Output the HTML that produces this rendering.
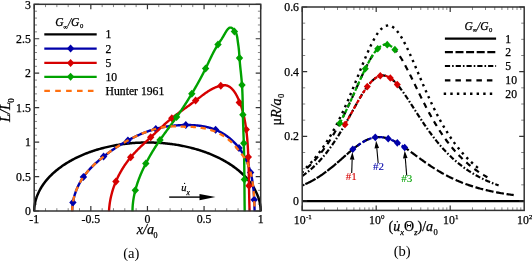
<!DOCTYPE html><html><head><meta charset="utf-8"><style>html,body{margin:0;padding:0;background:#fff;}svg{display:block;will-change:transform;}text{stroke:#000;stroke-width:0.25px;}</style></head><body>
<svg width="532" height="261" viewBox="0 0 532 261" font-family='"Liberation Serif", serif'>
<rect width="532" height="261" fill="#fff"/>
<path d="M34.2 211.4 L34.32 208.24 L34.44 206.93 L34.56 205.93 L34.68 205.08 L34.8 204.34 L34.92 203.67 L35.03 203.05 L35.15 202.48 L35.27 201.94 L35.39 201.43 L35.51 200.95 L35.63 200.48 L35.75 200.04 L35.87 199.61 L35.99 199.2 L36.11 198.81 L36.23 198.42 L36.35 198.05 L36.47 197.69 L36.47 197.69 L37.58 194.69 L38.7 192.18 L39.81 189.98 L40.93 188.01 L42.04 186.21 L43.16 184.54 L44.27 182.99 L45.39 181.54 L46.5 180.17 L47.62 178.87 L48.73 177.63 L49.85 176.45 L50.97 175.32 L52.08 174.24 L53.2 173.2 L54.31 172.2 L55.43 171.24 L56.54 170.31 L57.66 169.41 L58.77 168.54 L59.89 167.7 L61 166.89 L62.12 166.1 L63.24 165.33 L64.35 164.59 L65.47 163.87 L66.58 163.16 L67.7 162.48 L68.81 161.82 L69.93 161.17 L71.04 160.54 L72.16 159.93 L73.27 159.34 L74.39 158.76 L75.5 158.19 L76.62 157.64 L77.74 157.1 L78.85 156.58 L79.97 156.07 L81.08 155.57 L82.2 155.09 L83.31 154.61 L84.43 154.15 L85.54 153.71 L86.66 153.27 L87.77 152.84 L88.89 152.43 L90.01 152.02 L91.12 151.63 L92.24 151.24 L93.35 150.87 L94.47 150.51 L95.58 150.15 L96.7 149.81 L97.81 149.47 L98.93 149.14 L100.04 148.83 L101.16 148.52 L102.28 148.22 L103.39 147.93 L104.51 147.65 L105.62 147.37 L106.74 147.11 L107.85 146.85 L108.97 146.6 L110.08 146.36 L111.2 146.13 L112.31 145.9 L113.43 145.68 L114.54 145.47 L115.66 145.27 L116.78 145.08 L117.89 144.89 L119.01 144.71 L120.12 144.54 L121.24 144.37 L122.35 144.21 L123.47 144.06 L124.58 143.92 L125.7 143.78 L126.81 143.65 L127.93 143.53 L129.05 143.42 L130.16 143.31 L131.28 143.21 L132.39 143.11 L133.51 143.02 L134.62 142.94 L135.74 142.87 L136.85 142.8 L137.97 142.74 L139.08 142.69 L140.2 142.64 L141.32 142.6 L142.43 142.57 L143.55 142.54 L144.66 142.52 L145.78 142.51 L146.89 142.5 L148.01 142.5 L149.12 142.51 L150.24 142.52 L151.35 142.54 L152.47 142.57 L153.58 142.6 L154.7 142.64 L155.82 142.69 L156.93 142.74 L158.05 142.8 L159.16 142.87 L160.28 142.94 L161.39 143.02 L162.51 143.11 L163.62 143.21 L164.74 143.31 L165.85 143.42 L166.97 143.53 L168.09 143.65 L169.2 143.78 L170.32 143.92 L171.43 144.06 L172.55 144.21 L173.66 144.37 L174.78 144.54 L175.89 144.71 L177.01 144.89 L178.12 145.08 L179.24 145.27 L180.36 145.47 L181.47 145.68 L182.59 145.9 L183.7 146.13 L184.82 146.36 L185.93 146.6 L187.05 146.85 L188.16 147.11 L189.28 147.37 L190.39 147.65 L191.51 147.93 L192.62 148.22 L193.74 148.52 L194.86 148.83 L195.97 149.14 L197.09 149.47 L198.2 149.81 L199.32 150.15 L200.43 150.51 L201.55 150.87 L202.66 151.24 L203.78 151.63 L204.89 152.02 L206.01 152.43 L207.13 152.84 L208.24 153.27 L209.36 153.71 L210.47 154.15 L211.59 154.61 L212.7 155.09 L213.82 155.57 L214.93 156.07 L216.05 156.58 L217.16 157.1 L218.28 157.64 L219.4 158.19 L220.51 158.76 L221.63 159.34 L222.74 159.93 L223.86 160.54 L224.97 161.17 L226.09 161.82 L227.2 162.48 L228.32 163.16 L229.43 163.87 L230.55 164.59 L231.66 165.33 L232.78 166.1 L233.9 166.89 L235.01 167.7 L236.13 168.54 L237.24 169.41 L238.36 170.31 L239.47 171.24 L240.59 172.2 L241.7 173.2 L242.82 174.24 L243.93 175.32 L245.05 176.45 L246.17 177.63 L247.28 178.87 L248.4 180.17 L249.51 181.54 L250.63 182.99 L251.74 184.54 L252.86 186.21 L253.97 188.01 L255.09 189.98 L256.2 192.18 L257.32 194.69 L258.44 197.69 L258.44 197.69 L258.55 198.05 L258.67 198.42 L258.79 198.81 L258.91 199.2 L259.03 199.61 L259.15 200.04 L259.27 200.48 L259.39 200.95 L259.51 201.43 L259.63 201.94 L259.75 202.48 L259.87 203.05 L259.98 203.67 L260.1 204.34 L260.22 205.08 L260.34 205.93 L260.46 206.93 L260.58 208.24 L260.7 211.4" fill="none" stroke="#000" stroke-width="2.5"/>
<path d="M72.2 211.3 L72.2 210.6 L72.22 209.89 L72.24 209.19 L72.27 208.49 L72.31 207.78 L72.36 207.08 L72.42 206.38 L72.49 205.68 L72.57 204.98 L72.65 204.28 L72.75 203.58 L72.86 202.88 L72.97 202.19 L73.09 201.49 L73.22 200.79 L73.36 200.1 L73.51 199.41 L73.66 198.72 L73.83 198.03 L74 197.34 L74.18 196.66 L74.37 195.98 L74.57 195.29 L74.78 194.62 L74.99 193.94 L75.21 193.26 L75.44 192.59 L75.68 191.92 L75.92 191.26 L76.17 190.59 L76.43 189.93 L76.7 189.27 L76.98 188.61 L77.26 187.96 L77.55 187.31 L77.84 186.67 L78.15 186.02 L78.46 185.38 L78.78 184.75 L79.1 184.11 L79.43 183.49 L79.77 182.86 L80.11 182.24 L80.47 181.62 L80.82 181.01 L81.19 180.4 L81.56 179.8 L81.94 179.2 L82.32 178.6 L82.71 178.01 L83.11 177.42 L83.51 176.84 L83.92 176.27 L84.33 175.69 L84.75 175.13 L85.18 174.57 L85.61 174.01 L86.04 173.45 L86.49 172.9 L86.93 172.36 L87.39 171.82 L87.84 171.28 L88.3 170.75 L88.77 170.22 L89.24 169.7 L89.72 169.18 L90.2 168.66 L90.68 168.15 L91.17 167.64 L91.67 167.14 L92.16 166.64 L92.66 166.14 L93.17 165.65 L93.68 165.15 L94.19 164.67 L94.7 164.18 L95.22 163.7 L95.74 163.22 L96.27 162.75 L96.79 162.28 L97.32 161.81 L97.86 161.34 L98.39 160.88 L98.93 160.42 L99.47 159.96 L100.01 159.51 L100.56 159.06 L101.1 158.61 L101.65 158.16 L102.2 157.72 L102.75 157.27 L103.3 156.83 L103.86 156.4 L104.42 155.96 L104.97 155.53 L105.53 155.09 L106.09 154.66 L106.65 154.24 L107.22 153.81 L107.78 153.39 L108.35 152.97 L108.92 152.55 L109.48 152.13 L110.05 151.72 L110.63 151.31 L111.2 150.9 L111.77 150.49 L112.35 150.09 L112.93 149.68 L113.51 149.28 L114.09 148.89 L114.67 148.49 L115.25 148.1 L115.84 147.71 L116.43 147.32 L117.01 146.93 L117.6 146.55 L118.19 146.17 L118.79 145.79 L119.38 145.41 L119.98 145.04 L120.58 144.67 L121.18 144.3 L121.78 143.93 L122.38 143.57 L122.98 143.21 L123.59 142.85 L124.2 142.49 L124.81 142.14 L125.42 141.79 L126.03 141.44 L126.64 141.1 L127.26 140.75 L127.88 140.41 L128.49 140.08 L129.12 139.74 L129.74 139.41 L130.36 139.08 L130.99 138.75 L131.62 138.43 L132.24 138.11 L132.87 137.79 L133.51 137.47 L134.14 137.16 L134.78 136.85 L135.41 136.55 L136.05 136.25 L136.69 135.95 L137.33 135.65 L137.97 135.36 L138.62 135.07 L139.26 134.78 L139.91 134.5 L140.56 134.22 L141.21 133.95 L141.86 133.67 L142.52 133.41 L143.17 133.14 L143.83 132.88 L144.48 132.63 L145.14 132.37 L145.8 132.12 L146.46 131.88 L147.12 131.64 L147.79 131.4 L148.45 131.17 L149.12 130.94 L149.79 130.71 L150.46 130.49 L151.13 130.28 L151.8 130.07 L152.47 129.86 L153.14 129.65 L153.82 129.46 L154.49 129.26 L155.17 129.07 L155.85 128.89 L156.53 128.71 L157.21 128.53 L157.89 128.36 L158.57 128.19 L159.26 128.03 L159.94 127.87 L160.63 127.72 L161.31 127.57 L162 127.43 L162.69 127.29 L163.38 127.15 L164.07 127.02 L164.76 126.89 L165.45 126.77 L166.15 126.65 L166.84 126.54 L167.54 126.43 L168.23 126.32 L168.93 126.22 L169.63 126.13 L170.33 126.03 L171.02 125.94 L171.72 125.86 L172.43 125.78 L173.13 125.7 L173.83 125.63 L174.53 125.56 L175.23 125.5 L175.94 125.44 L176.64 125.38 L177.35 125.33 L178.05 125.28 L178.76 125.24 L179.47 125.19 L180.18 125.16 L180.88 125.13 L181.59 125.1 L182.3 125.07 L183.01 125.05 L183.72 125.03 L184.43 125.02 L185.14 125.01 L185.85 125 L186.57 125 L187.28 125 L187.99 125 L188.7 125.01 L189.41 125.02 L190.13 125.04 L190.84 125.06 L191.55 125.09 L192.26 125.12 L192.98 125.15 L193.69 125.19 L194.4 125.24 L195.11 125.29 L195.82 125.35 L196.52 125.41 L197.23 125.47 L197.94 125.55 L198.64 125.63 L199.35 125.71 L200.05 125.8 L200.76 125.9 L201.46 126 L202.16 126.11 L202.85 126.23 L203.55 126.35 L204.24 126.48 L204.94 126.61 L205.63 126.76 L206.32 126.91 L207 127.07 L207.69 127.23 L208.37 127.41 L209.05 127.59 L209.73 127.78 L210.41 127.97 L211.08 128.18 L211.75 128.39 L212.42 128.61 L213.08 128.84 L213.75 129.08 L214.41 129.33 L215.06 129.58 L215.72 129.85 L216.37 130.12 L217.01 130.4 L217.66 130.7 L218.3 131 L218.93 131.31 L219.57 131.62 L220.19 131.95 L220.82 132.29 L221.44 132.63 L222.06 132.98 L222.67 133.34 L223.28 133.71 L223.88 134.08 L224.48 134.46 L225.08 134.86 L225.67 135.25 L226.26 135.66 L226.84 136.07 L227.41 136.49 L227.98 136.92 L228.55 137.36 L229.11 137.8 L229.66 138.25 L230.21 138.7 L230.76 139.17 L231.3 139.64 L231.83 140.11 L232.36 140.6 L232.88 141.08 L233.39 141.58 L233.9 142.08 L234.4 142.59 L234.9 143.1 L235.39 143.62 L235.87 144.15 L236.35 144.68 L236.82 145.21 L237.28 145.75 L237.73 146.3 L238.18 146.85 L238.62 147.41 L239.06 147.97 L239.48 148.54 L239.9 149.12 L240.31 149.69 L240.72 150.28 L241.12 150.86 L241.51 151.45 L241.89 152.05 L242.27 152.65 L242.64 153.25 L243 153.86 L243.35 154.48 L243.7 155.09 L244.04 155.71 L244.38 156.34 L244.71 156.96 L245.03 157.59 L245.34 158.23 L245.65 158.87 L245.95 159.51 L246.25 160.15 L246.54 160.8 L246.82 161.45 L247.09 162.1 L247.36 162.76 L247.63 163.41 L247.88 164.07 L248.13 164.74 L248.38 165.4 L248.61 166.07 L248.85 166.74 L249.07 167.41 L249.29 168.08 L249.5 168.76 L249.71 169.43 L249.91 170.11 L250.11 170.79 L250.3 171.47 L250.48 172.16 L250.66 172.84 L250.83 173.52 L251 174.21 L251.16 174.89 L251.32 175.58 L251.47 176.27 L251.62 176.96 L251.76 177.65 L251.89 178.34 L252.02 179.03 L252.15 179.73 L252.27 180.42 L252.39 181.11 L252.5 181.81 L252.61 182.5 L252.71 183.2 L252.81 183.9 L252.91 184.6 L253 185.29 L253.09 185.99 L253.17 186.69 L253.25 187.39 L253.33 188.09 L253.41 188.79 L253.48 189.5 L253.54 190.2 L253.61 190.9 L253.67 191.6 L253.73 192.31 L253.78 193.01 L253.84 193.71 L253.89 194.42 L253.94 195.12 L253.98 195.82 L254.02 196.53 L254.07 197.23 L254.11 197.94 L254.14 198.64 L254.18 199.34 L254.21 200.05 L254.24 200.75 L254.27 201.46 L254.3 202.16 L254.33 202.87 L254.36 203.57 L254.38 204.28 L254.41 204.98 L254.43 205.68 L254.45 206.39 L254.48 207.09 L254.5 207.79 L254.52 208.49 L254.54 209.2 L254.56 209.9 L254.58 210.6 L254.6 211.3" fill="none" stroke="#0000aa" stroke-width="2.4" stroke-linejoin="round"/>
<path d="M72.9 198.6 L76.6 202.6 L72.9 206.6 L69.2 202.6 Z" fill="#0000aa"/>
<path d="M83.4 173 L87.1 177 L83.4 181 L79.7 177 Z" fill="#0000aa"/>
<path d="M103.6 152.6 L107.3 156.6 L103.6 160.6 L99.9 156.6 Z" fill="#0000aa"/>
<path d="M127.9 136.4 L131.6 140.4 L127.9 144.4 L124.2 140.4 Z" fill="#0000aa"/>
<path d="M155.8 124.9 L159.5 128.9 L155.8 132.9 L152.1 128.9 Z" fill="#0000aa"/>
<path d="M185.8 121 L189.5 125 L185.8 129 L182.1 125 Z" fill="#0000aa"/>
<path d="M215.6 125.8 L219.3 129.8 L215.6 133.8 L211.9 129.8 Z" fill="#0000aa"/>
<path d="M239 143.9 L242.7 147.9 L239 151.9 L235.3 147.9 Z" fill="#0000aa"/>
<path d="M250.6 168.6 L254.3 172.6 L250.6 176.6 L246.9 172.6 Z" fill="#0000aa"/>
<path d="M254.2 195.8 L257.9 199.8 L254.2 203.8 L250.5 199.8 Z" fill="#0000aa"/>
<path d="M109 211.3 L109.04 210.51 L109.09 209.73 L109.14 208.94 L109.21 208.15 L109.28 207.37 L109.36 206.59 L109.44 205.8 L109.53 205.02 L109.63 204.24 L109.74 203.46 L109.86 202.69 L109.98 201.91 L110.11 201.13 L110.24 200.36 L110.39 199.59 L110.54 198.82 L110.7 198.05 L110.86 197.28 L111.03 196.51 L111.21 195.75 L111.4 194.98 L111.59 194.22 L111.79 193.46 L111.99 192.7 L112.21 191.95 L112.43 191.19 L112.65 190.44 L112.88 189.69 L113.12 188.94 L113.37 188.2 L113.62 187.45 L113.88 186.71 L114.14 185.97 L114.42 185.23 L114.69 184.5 L114.98 183.76 L115.27 183.03 L115.56 182.3 L115.87 181.58 L116.18 180.86 L116.49 180.14 L116.81 179.42 L117.14 178.7 L117.47 177.99 L117.81 177.28 L118.15 176.57 L118.5 175.87 L118.86 175.17 L119.22 174.47 L119.59 173.78 L119.96 173.09 L120.34 172.4 L120.72 171.71 L121.11 171.03 L121.51 170.35 L121.91 169.67 L122.32 169 L122.73 168.33 L123.15 167.67 L123.57 167.01 L124 166.35 L124.43 165.69 L124.87 165.04 L125.31 164.39 L125.76 163.75 L126.21 163.11 L126.67 162.47 L127.13 161.84 L127.6 161.21 L128.07 160.59 L128.55 159.97 L129.03 159.35 L129.52 158.74 L130.01 158.13 L130.51 157.53 L131.01 156.93 L131.52 156.33 L132.03 155.74 L132.54 155.15 L133.06 154.57 L133.59 153.99 L134.11 153.41 L134.64 152.84 L135.18 152.27 L135.71 151.7 L136.25 151.14 L136.8 150.58 L137.35 150.02 L137.89 149.46 L138.45 148.91 L139 148.36 L139.56 147.81 L140.12 147.26 L140.68 146.72 L141.24 146.17 L141.81 145.63 L142.37 145.09 L142.94 144.55 L143.51 144.01 L144.08 143.47 L144.65 142.94 L145.22 142.4 L145.8 141.87 L146.37 141.33 L146.94 140.8 L147.52 140.26 L148.09 139.73 L148.67 139.2 L149.24 138.66 L149.82 138.13 L150.39 137.59 L150.96 137.05 L151.54 136.52 L152.11 135.98 L152.68 135.44 L153.25 134.9 L153.82 134.37 L154.39 133.83 L154.96 133.29 L155.53 132.75 L156.1 132.21 L156.67 131.67 L157.24 131.14 L157.82 130.6 L158.39 130.06 L158.96 129.53 L159.53 128.99 L160.11 128.46 L160.68 127.93 L161.26 127.39 L161.83 126.86 L162.41 126.34 L162.99 125.81 L163.56 125.28 L164.15 124.76 L164.73 124.24 L165.31 123.72 L165.89 123.2 L166.48 122.69 L167.07 122.17 L167.66 121.66 L168.25 121.15 L168.84 120.65 L169.44 120.15 L170.04 119.65 L170.64 119.15 L171.24 118.66 L171.84 118.17 L172.45 117.68 L173.06 117.2 L173.67 116.71 L174.28 116.24 L174.9 115.76 L175.52 115.29 L176.13 114.82 L176.76 114.35 L177.38 113.88 L178 113.42 L178.63 112.96 L179.26 112.5 L179.88 112.04 L180.51 111.58 L181.14 111.12 L181.78 110.66 L182.41 110.21 L183.04 109.75 L183.68 109.3 L184.31 108.84 L184.95 108.39 L185.58 107.93 L186.22 107.47 L186.86 107.02 L187.49 106.56 L188.13 106.1 L188.77 105.65 L189.4 105.19 L190.04 104.73 L190.67 104.26 L191.31 103.8 L191.95 103.33 L192.58 102.87 L193.21 102.4 L193.85 101.92 L194.48 101.45 L195.11 100.97 L195.74 100.49 L196.37 100.01 L197 99.53 L197.63 99.04 L198.25 98.55 L198.88 98.06 L199.51 97.58 L200.14 97.09 L200.77 96.6 L201.4 96.12 L202.03 95.64 L202.66 95.16 L203.3 94.68 L203.94 94.21 L204.58 93.75 L205.22 93.29 L205.87 92.84 L206.52 92.39 L207.17 91.95 L207.83 91.52 L208.49 91.09 L209.15 90.68 L209.82 90.27 L210.5 89.88 L211.18 89.49 L211.87 89.12 L212.56 88.76 L213.26 88.41 L213.96 88.07 L214.67 87.75 L215.39 87.44 L216.12 87.15 L216.85 86.87 L217.59 86.61 L218.34 86.37 L219.1 86.14 L219.86 85.93 L220.64 85.74 L221.42 85.57 L222.21 85.42 L223 85.31 L223.79 85.23 L224.58 85.21 L225.35 85.24 L226.12 85.34 L226.86 85.52 L227.59 85.76 L228.29 86.07 L228.98 86.44 L229.65 86.86 L230.29 87.33 L230.91 87.85 L231.51 88.4 L232.09 88.98 L232.65 89.58 L233.18 90.2 L233.68 90.84 L234.17 91.48 L234.63 92.13 L235.07 92.78 L235.49 93.45 L235.89 94.12 L236.28 94.79 L236.65 95.48 L237.01 96.16 L237.35 96.86 L237.69 97.55 L238.02 98.25 L238.34 98.96 L238.65 99.67 L238.96 100.38 L239.26 101.1 L239.55 101.82 L239.83 102.54 L240.11 103.27 L240.38 104 L240.64 104.73 L240.9 105.47 L241.15 106.21 L241.4 106.95 L241.63 107.7 L241.87 108.45 L242.09 109.2 L242.31 109.95 L242.53 110.7 L242.74 111.46 L242.94 112.22 L243.14 112.98 L243.33 113.75 L243.51 114.51 L243.7 115.28 L243.87 116.05 L244.04 116.82 L244.21 117.59 L244.37 118.36 L244.53 119.14 L244.68 119.91 L244.83 120.69 L244.97 121.47 L245.11 122.25 L245.24 123.02 L245.37 123.8 L245.5 124.58 L245.62 125.37 L245.74 126.15 L245.86 126.93 L245.97 127.71 L246.08 128.49 L246.18 129.27 L246.28 130.05 L246.38 130.83 L246.48 131.62 L246.57 132.4 L246.66 133.18 L246.75 133.96 L246.83 134.74 L246.91 135.52 L246.99 136.3 L247.06 137.08 L247.14 137.86 L247.21 138.64 L247.28 139.42 L247.34 140.2 L247.4 140.98 L247.47 141.76 L247.52 142.54 L247.58 143.31 L247.64 144.09 L247.69 144.87 L247.74 145.65 L247.79 146.43 L247.83 147.21 L247.88 147.99 L247.92 148.77 L247.97 149.55 L248.01 150.33 L248.04 151.11 L248.08 151.89 L248.12 152.67 L248.15 153.45 L248.19 154.23 L248.22 155.01 L248.25 155.79 L248.28 156.57 L248.31 157.35 L248.34 158.13 L248.37 158.91 L248.4 159.69 L248.42 160.47 L248.45 161.25 L248.47 162.03 L248.5 162.81 L248.52 163.59 L248.55 164.38 L248.57 165.16 L248.59 165.94 L248.61 166.72 L248.63 167.5 L248.65 168.28 L248.67 169.07 L248.69 169.85 L248.71 170.63 L248.72 171.41 L248.74 172.19 L248.76 172.98 L248.78 173.76 L248.79 174.54 L248.81 175.32 L248.82 176.11 L248.84 176.89 L248.85 177.67 L248.87 178.45 L248.88 179.24 L248.9 180.02 L248.91 180.8 L248.93 181.58 L248.94 182.37 L248.95 183.15 L248.97 183.93 L248.98 184.71 L248.99 185.5 L249.01 186.28 L249.02 187.06 L249.04 187.84 L249.05 188.63 L249.06 189.41 L249.08 190.19 L249.09 190.97 L249.11 191.76 L249.12 192.54 L249.14 193.32 L249.15 194.1 L249.17 194.89 L249.18 195.67 L249.2 196.45 L249.22 197.23 L249.23 198.02 L249.25 198.8 L249.27 199.58 L249.29 200.36 L249.3 201.14 L249.32 201.93 L249.34 202.71 L249.36 203.49 L249.38 204.27 L249.41 205.05 L249.43 205.83 L249.45 206.61 L249.47 207.4 L249.5 208.18 L249.52 208.96 L249.55 209.74 L249.57 210.52 L249.6 211.3" fill="none" stroke="#d60000" stroke-width="2.4" stroke-linejoin="round"/>
<path d="M115.9 177.5 L119.6 181.5 L115.9 185.5 L112.2 181.5 Z" fill="#d60000"/>
<path d="M130.7 153.3 L134.4 157.3 L130.7 161.3 L127 157.3 Z" fill="#d60000"/>
<path d="M150.7 133.3 L154.4 137.3 L150.7 141.3 L147 137.3 Z" fill="#d60000"/>
<path d="M171.8 114.2 L175.5 118.2 L171.8 122.2 L168.1 118.2 Z" fill="#d60000"/>
<path d="M195.6 96.6 L199.3 100.6 L195.6 104.6 L191.9 100.6 Z" fill="#d60000"/>
<path d="M220.8 81.7 L224.5 85.7 L220.8 89.7 L217.1 85.7 Z" fill="#d60000"/>
<path d="M239.3 98.6 L243 102.6 L239.3 106.6 L235.6 102.6 Z" fill="#d60000"/>
<path d="M246.2 125.4 L249.9 129.4 L246.2 133.4 L242.5 129.4 Z" fill="#d60000"/>
<path d="M248.3 153 L252 157 L248.3 161 L244.6 157 Z" fill="#d60000"/>
<path d="M249 181.8 L252.7 185.8 L249 189.8 L245.3 185.8 Z" fill="#d60000"/>
<path d="M132.5 211.3 L132.51 210.29 L132.53 209.28 L132.56 208.28 L132.61 207.27 L132.67 206.27 L132.74 205.28 L132.83 204.28 L132.93 203.28 L133.04 202.29 L133.16 201.3 L133.29 200.31 L133.44 199.33 L133.59 198.35 L133.76 197.37 L133.94 196.39 L134.13 195.41 L134.33 194.44 L134.54 193.47 L134.76 192.5 L134.99 191.53 L135.23 190.56 L135.48 189.6 L135.74 188.64 L136.01 187.69 L136.29 186.73 L136.58 185.78 L136.88 184.83 L137.18 183.88 L137.5 182.93 L137.82 181.99 L138.15 181.05 L138.49 180.11 L138.84 179.18 L139.19 178.25 L139.55 177.32 L139.92 176.39 L140.3 175.46 L140.68 174.54 L141.07 173.62 L141.47 172.7 L141.87 171.79 L142.28 170.88 L142.7 169.97 L143.12 169.06 L143.55 168.16 L143.98 167.26 L144.42 166.36 L144.86 165.46 L145.31 164.57 L145.76 163.68 L146.22 162.79 L146.68 161.9 L147.15 161.02 L147.62 160.14 L148.09 159.26 L148.57 158.39 L149.06 157.52 L149.55 156.65 L150.04 155.78 L150.54 154.92 L151.04 154.06 L151.54 153.2 L152.05 152.34 L152.56 151.49 L153.08 150.64 L153.6 149.79 L154.13 148.94 L154.66 148.1 L155.19 147.26 L155.73 146.42 L156.27 145.58 L156.81 144.75 L157.36 143.91 L157.91 143.08 L158.46 142.26 L159.02 141.43 L159.58 140.61 L160.14 139.79 L160.71 138.97 L161.28 138.16 L161.86 137.34 L162.43 136.53 L163.01 135.72 L163.59 134.91 L164.18 134.11 L164.76 133.3 L165.35 132.49 L165.94 131.69 L166.52 130.89 L167.11 130.09 L167.7 129.28 L168.3 128.48 L168.89 127.68 L169.48 126.88 L170.07 126.08 L170.66 125.28 L171.25 124.47 L171.84 123.67 L172.43 122.87 L173.02 122.07 L173.61 121.26 L174.19 120.46 L174.78 119.65 L175.36 118.84 L175.94 118.03 L176.52 117.22 L177.09 116.41 L177.66 115.59 L178.23 114.77 L178.8 113.96 L179.36 113.14 L179.92 112.31 L180.48 111.49 L181.04 110.66 L181.6 109.84 L182.15 109.01 L182.7 108.18 L183.25 107.35 L183.79 106.51 L184.33 105.68 L184.87 104.84 L185.41 104 L185.95 103.17 L186.48 102.32 L187.02 101.48 L187.55 100.64 L188.07 99.79 L188.6 98.95 L189.12 98.1 L189.65 97.25 L190.17 96.4 L190.68 95.55 L191.2 94.7 L191.71 93.84 L192.23 92.99 L192.74 92.13 L193.25 91.27 L193.75 90.42 L194.26 89.56 L194.76 88.69 L195.26 87.83 L195.76 86.97 L196.25 86.1 L196.74 85.24 L197.24 84.37 L197.72 83.5 L198.21 82.63 L198.69 81.76 L199.17 80.89 L199.65 80.01 L200.13 79.14 L200.6 78.26 L201.07 77.38 L201.53 76.5 L202 75.62 L202.46 74.74 L202.92 73.85 L203.37 72.97 L203.82 72.08 L204.27 71.19 L204.71 70.3 L205.15 69.41 L205.59 68.52 L206.03 67.62 L206.46 66.73 L206.89 65.83 L207.31 64.93 L207.74 64.03 L208.16 63.14 L208.59 62.24 L209.01 61.34 L209.44 60.44 L209.87 59.54 L210.3 58.65 L210.73 57.75 L211.17 56.86 L211.61 55.96 L212.05 55.07 L212.5 54.19 L212.95 53.3 L213.42 52.42 L213.88 51.54 L214.36 50.66 L214.84 49.78 L215.33 48.91 L215.83 48.05 L216.33 47.19 L216.85 46.33 L217.38 45.47 L217.92 44.62 L218.47 43.78 L219.03 42.94 L219.59 42.11 L220.16 41.27 L220.72 40.44 L221.27 39.61 L221.81 38.79 L222.33 37.96 L222.84 37.13 L223.32 36.31 L223.8 35.47 L224.27 34.64 L224.75 33.79 L225.25 32.94 L225.77 32.07 L226.34 31.18 L226.96 30.28 L227.63 29.38 L228.36 28.59 L229.14 27.97 L229.99 27.63 L230.88 27.64 L231.81 27.98 L232.71 28.55 L233.55 29.25 L234.28 30.02 L234.9 30.82 L235.43 31.65 L235.87 32.52 L236.25 33.42 L236.56 34.34 L236.82 35.3 L237.03 36.27 L237.22 37.26 L237.37 38.26 L237.51 39.26 L237.64 40.27 L237.78 41.27 L237.91 42.26 L238.05 43.25 L238.19 44.24 L238.33 45.23 L238.46 46.21 L238.59 47.19 L238.71 48.18 L238.82 49.16 L238.92 50.15 L239.02 51.14 L239.1 52.13 L239.17 53.12 L239.24 54.11 L239.31 55.11 L239.37 56.1 L239.44 57.1 L239.51 58.09 L239.58 59.09 L239.66 60.08 L239.74 61.08 L239.82 62.07 L239.91 63.06 L240 64.06 L240.1 65.05 L240.19 66.04 L240.29 67.03 L240.39 68.02 L240.49 69.01 L240.59 70 L240.69 70.99 L240.8 71.99 L240.9 72.98 L241 73.97 L241.1 74.96 L241.2 75.95 L241.3 76.94 L241.39 77.93 L241.49 78.92 L241.58 79.91 L241.67 80.9 L241.75 81.89 L241.83 82.88 L241.91 83.87 L241.98 84.87 L242.05 85.86 L242.12 86.85 L242.18 87.84 L242.23 88.84 L242.28 89.83 L242.33 90.83 L242.37 91.82 L242.41 92.81 L242.45 93.81 L242.49 94.8 L242.52 95.8 L242.55 96.79 L242.58 97.79 L242.6 98.79 L242.63 99.78 L242.65 100.78 L242.67 101.77 L242.69 102.77 L242.71 103.77 L242.72 104.76 L242.74 105.76 L242.76 106.76 L242.77 107.75 L242.79 108.75 L242.8 109.74 L242.82 110.74 L242.84 111.74 L242.86 112.73 L242.88 113.73 L242.9 114.73 L242.92 115.72 L242.94 116.72 L242.97 117.71 L243 118.71 L243.02 119.71 L243.05 120.7 L243.08 121.7 L243.11 122.69 L243.14 123.69 L243.18 124.68 L243.21 125.68 L243.24 126.67 L243.28 127.67 L243.31 128.66 L243.35 129.66 L243.38 130.65 L243.41 131.65 L243.45 132.64 L243.48 133.64 L243.52 134.63 L243.55 135.63 L243.59 136.62 L243.62 137.62 L243.66 138.61 L243.69 139.61 L243.72 140.61 L243.75 141.6 L243.78 142.6 L243.81 143.59 L243.84 144.59 L243.87 145.58 L243.89 146.58 L243.92 147.57 L243.95 148.57 L243.97 149.56 L243.99 150.56 L244.01 151.55 L244.04 152.55 L244.06 153.54 L244.08 154.54 L244.1 155.54 L244.12 156.53 L244.13 157.53 L244.15 158.52 L244.17 159.52 L244.18 160.51 L244.2 161.51 L244.21 162.51 L244.23 163.5 L244.24 164.5 L244.25 165.49 L244.27 166.49 L244.28 167.48 L244.29 168.48 L244.3 169.48 L244.31 170.47 L244.32 171.47 L244.34 172.46 L244.35 173.46 L244.35 174.46 L244.36 175.45 L244.37 176.45 L244.38 177.44 L244.39 178.44 L244.4 179.44 L244.41 180.43 L244.42 181.43 L244.42 182.42 L244.43 183.42 L244.44 184.41 L244.45 185.41 L244.46 186.41 L244.46 187.4 L244.47 188.4 L244.48 189.39 L244.49 190.39 L244.49 191.39 L244.5 192.38 L244.51 193.38 L244.52 194.37 L244.53 195.37 L244.54 196.37 L244.54 197.36 L244.55 198.36 L244.56 199.35 L244.57 200.35 L244.58 201.34 L244.59 202.34 L244.6 203.34 L244.61 204.33 L244.62 205.33 L244.64 206.32 L244.65 207.32 L244.66 208.31 L244.67 209.31 L244.69 210.3 L244.7 211.3" fill="none" stroke="#00a200" stroke-width="2.4" stroke-linejoin="round"/>
<path d="M135.3 186.3 L139 190.3 L135.3 194.3 L131.6 190.3 Z" fill="#00a200"/>
<path d="M145.8 159.6 L149.5 163.6 L145.8 167.6 L142.1 163.6 Z" fill="#00a200"/>
<path d="M160 136 L163.7 140 L160 144 L156.3 140 Z" fill="#00a200"/>
<path d="M176.6 113.1 L180.3 117.1 L176.6 121.1 L172.9 117.1 Z" fill="#00a200"/>
<path d="M191.8 89.7 L195.5 93.7 L191.8 97.7 L188.1 93.7 Z" fill="#00a200"/>
<path d="M205.6 64.5 L209.3 68.5 L205.6 72.5 L201.9 68.5 Z" fill="#00a200"/>
<path d="M218 40.5 L221.7 44.5 L218 48.5 L214.3 44.5 Z" fill="#00a200"/>
<path d="M234.4 27.6 L238.1 31.6 L234.4 35.6 L230.7 31.6 Z" fill="#00a200"/>
<path d="M239.5 54 L243.2 58 L239.5 62 L235.8 58 Z" fill="#00a200"/>
<path d="M242 81.1 L245.7 85.1 L242 89.1 L238.3 85.1 Z" fill="#00a200"/>
<path d="M242.9 110.8 L246.6 114.8 L242.9 118.8 L239.2 114.8 Z" fill="#00a200"/>
<path d="M243.8 139.2 L247.5 143.2 L243.8 147.2 L240.1 143.2 Z" fill="#00a200"/>
<path d="M244.4 175.5 L248.1 179.5 L244.4 183.5 L240.7 179.5 Z" fill="#00a200"/>
<path d="M72.2 211.3 L72.2 210.6 L72.22 209.89 L72.24 209.19 L72.27 208.49 L72.31 207.78 L72.36 207.08 L72.42 206.38 L72.49 205.68 L72.57 204.98 L72.65 204.28 L72.75 203.58 L72.86 202.88 L72.97 202.19 L73.09 201.49 L73.22 200.79 L73.36 200.1 L73.51 199.41 L73.66 198.72 L73.83 198.03 L74 197.34 L74.18 196.66 L74.37 195.98 L74.57 195.29 L74.78 194.62 L74.99 193.94 L75.21 193.26 L75.44 192.59 L75.68 191.92 L75.92 191.26 L76.17 190.59 L76.43 189.93 L76.7 189.27 L76.98 188.61 L77.26 187.96 L77.55 187.31 L77.84 186.67 L78.15 186.02 L78.46 185.38 L78.78 184.75 L79.1 184.11 L79.43 183.49 L79.77 182.86 L80.11 182.24 L80.47 181.62 L80.82 181.01 L81.19 180.4 L81.56 179.8 L81.94 179.2 L82.32 178.6 L82.71 178.01 L83.11 177.42 L83.51 176.84 L83.92 176.27 L84.33 175.69 L84.75 175.13 L85.18 174.57 L85.61 174.01 L86.04 173.45 L86.49 172.9 L86.93 172.36 L87.39 171.82 L87.84 171.28 L88.3 170.75 L88.77 170.22 L89.24 169.7 L89.72 169.18 L90.2 168.66 L90.68 168.15 L91.17 167.64 L91.67 167.14 L92.16 166.64 L92.66 166.14 L93.17 165.65 L93.68 165.15 L94.19 164.67 L94.7 164.18 L95.22 163.7 L95.74 163.22 L96.27 162.75 L96.79 162.28 L97.32 161.81 L97.86 161.34 L98.39 160.88 L98.93 160.42 L99.47 159.96 L100.01 159.51 L100.56 159.06 L101.1 158.61 L101.65 158.16 L102.2 157.72 L102.75 157.27 L103.3 156.83 L103.86 156.4 L104.42 155.96 L104.97 155.53 L105.53 155.09 L106.09 154.66 L106.65 154.24 L107.22 153.81 L107.78 153.39 L108.35 152.97 L108.92 152.55 L109.48 152.13 L110.05 151.72 L110.63 151.31 L111.2 150.9 L111.77 150.49 L112.35 150.09 L112.93 149.68 L113.51 149.28 L114.09 148.89 L114.67 148.49 L115.25 148.1 L115.84 147.71 L116.43 147.32 L117.01 146.93 L117.6 146.55 L118.19 146.17 L118.79 145.79 L119.38 145.41 L119.98 145.04 L120.58 144.67 L121.18 144.3 L121.78 143.93 L122.38 143.57 L122.98 143.21 L123.59 142.85 L124.2 142.49 L124.81 142.14 L125.42 141.79 L126.03 141.44 L126.64 141.1 L127.26 140.75 L127.88 140.41 L128.49 140.08 L129.12 139.74 L129.74 139.41 L130.36 139.08 L130.99 138.75 L131.62 138.43 L132.24 138.11 L132.87 137.79 L133.51 137.47 L134.14 137.16 L134.78 136.85 L135.41 136.55 L136.05 136.25 L136.69 135.95 L137.33 135.65 L137.97 135.36 L138.62 135.07 L139.26 134.78 L139.91 134.5 L140.56 134.22 L141.21 133.95 L141.86 133.67 L142.52 133.41 L143.17 133.14 L143.83 132.88 L144.48 132.63 L145.14 132.37 L145.8 132.12 L146.46 131.88 L147.12 131.64 L147.79 131.4 L148.45 131.17 L149.12 130.94 L149.79 130.71 L150.46 130.49 L151.13 130.28 L151.8 130.07 L152.47 129.86 L153.14 129.65 L153.82 129.46 L154.49 129.26 L155.17 129.07 L155.85 128.89 L156.53 128.71 L157.21 128.53 L157.89 128.36 L158.57 128.19 L159.26 128.03 L159.94 127.87 L160.63 127.72 L161.31 127.57 L162 127.43 L162.69 127.29 L163.38 127.15 L164.07 127.02 L164.76 126.89 L165.46 126.81 L166.16 126.75 L166.87 126.7 L167.57 126.65 L168.28 126.61 L168.98 126.57 L169.68 126.54 L170.39 126.51 L171.09 126.48 L171.8 126.46 L172.5 126.44 L173.2 126.43 L173.91 126.42 L174.61 126.42 L175.32 126.42 L176.02 126.42 L176.72 126.43 L177.43 126.44 L178.13 126.45 L178.84 126.47 L179.54 126.5 L180.24 126.52 L180.95 126.55 L181.65 126.59 L182.35 126.63 L183.06 126.67 L183.76 126.72 L184.46 126.77 L185.16 126.81 L185.87 126.8 L186.57 126.8 L187.27 126.8 L187.97 126.8 L188.68 126.81 L189.38 126.82 L190.08 126.84 L190.78 126.86 L191.48 126.89 L192.18 126.92 L192.88 126.95 L193.58 126.99 L194.28 127.04 L194.97 127.09 L195.67 127.14 L196.36 127.2 L197.06 127.27 L197.75 127.34 L198.44 127.41 L199.13 127.5 L199.82 127.59 L200.5 127.68 L201.19 127.78 L201.87 127.89 L202.55 128 L203.23 128.12 L203.91 128.25 L204.58 128.38 L205.25 128.52 L205.92 128.67 L206.59 128.82 L207.26 128.98 L207.92 129.15 L208.58 129.32 L209.24 129.51 L209.89 129.7 L210.55 129.9 L211.19 130.1 L211.84 130.32 L212.49 130.54 L213.13 130.77 L213.76 131.01 L214.4 131.26 L215.03 131.51 L215.66 131.78 L216.28 132.05 L216.9 132.33 L217.52 132.62 L218.14 132.92 L218.75 133.23 L219.36 133.54 L219.96 133.87 L220.56 134.2 L221.16 134.54 L221.75 134.89 L222.34 135.24 L222.92 135.6 L223.51 135.98 L224.08 136.35 L224.65 136.74 L225.22 137.13 L225.78 137.53 L226.34 137.94 L226.89 138.36 L227.44 138.78 L227.99 139.21 L228.52 139.64 L229.06 140.08 L229.58 140.53 L230.11 140.99 L230.62 141.45 L231.13 141.92 L231.64 142.39 L232.14 142.87 L232.63 143.35 L233.12 143.85 L233.6 144.34 L234.07 144.85 L234.54 145.36 L235 145.87 L235.45 146.39 L235.9 146.91 L236.34 147.44 L236.78 147.98 L237.2 148.52 L237.62 149.06 L238.04 149.61 L238.44 150.17 L238.84 150.73 L239.27 151.27 L239.73 151.79 L240.18 152.32 L240.63 152.85 L241.07 153.39 L241.51 153.93 L241.95 154.48 L242.37 155.04 L242.8 155.6 L243.22 156.16 L243.63 156.73 L244.04 157.31 L244.44 157.89 L244.84 158.48 L245.23 159.07 L245.61 159.67 L246 160.27 L246.37 160.87 L246.74 161.48 L247.09 162.1 L247.36 162.76 L247.63 163.41 L247.88 164.07 L248.13 164.74 L248.38 165.4 L248.61 166.07 L248.85 166.74 L249.07 167.41 L249.29 168.08 L249.5 168.76 L249.71 169.43 L249.91 170.11 L250.11 170.79 L250.3 171.47 L250.48 172.16 L250.66 172.84 L250.83 173.52 L251 174.21 L251.16 174.89 L251.32 175.58 L251.47 176.27 L251.62 176.96 L251.76 177.65 L251.89 178.34 L252.02 179.03 L252.15 179.73 L252.27 180.42 L252.39 181.11 L252.5 181.81 L252.61 182.5 L252.71 183.2 L252.81 183.9 L252.91 184.6 L253 185.29 L253.09 185.99 L253.17 186.69 L253.25 187.39 L253.33 188.09 L253.41 188.79 L253.48 189.5 L253.54 190.2 L253.61 190.9 L253.67 191.6 L253.73 192.31 L253.78 193.01 L253.84 193.71 L253.89 194.42 L253.94 195.12 L253.98 195.82 L254.02 196.53 L254.07 197.23 L254.11 197.94 L254.14 198.64 L254.18 199.34 L254.21 200.05 L254.24 200.75 L254.27 201.46 L254.3 202.16 L254.33 202.87 L254.36 203.57 L254.38 204.28 L254.41 204.98 L254.43 205.68 L254.45 206.39 L254.48 207.09 L254.5 207.79 L254.52 208.49 L254.54 209.2 L254.56 209.9 L254.58 210.6 L254.6 211.3" fill="none" stroke="#ff7010" stroke-width="2.3" stroke-dasharray="5.4 4.6" stroke-dashoffset="0"/>
<g stroke="#333" fill="none">
<rect x="34.2" y="4.3" width="226.5" height="206.7" stroke-width="1.5"/>
<path d="M34.2 211 V206 M34.2 4.3 V9.3" stroke-width="1.2"/>
<path d="M45.52 211 V208.2 M45.52 4.3 V7.1" stroke-width="0.6"/>
<path d="M56.85 211 V208.2 M56.85 4.3 V7.1" stroke-width="0.6"/>
<path d="M68.18 211 V208.2 M68.18 4.3 V7.1" stroke-width="0.6"/>
<path d="M79.5 211 V208.2 M79.5 4.3 V7.1" stroke-width="0.6"/>
<path d="M90.83 211 V206 M90.83 4.3 V9.3" stroke-width="1.2"/>
<path d="M102.15 211 V208.2 M102.15 4.3 V7.1" stroke-width="0.6"/>
<path d="M113.48 211 V208.2 M113.48 4.3 V7.1" stroke-width="0.6"/>
<path d="M124.8 211 V208.2 M124.8 4.3 V7.1" stroke-width="0.6"/>
<path d="M136.12 211 V208.2 M136.12 4.3 V7.1" stroke-width="0.6"/>
<path d="M147.45 211 V206 M147.45 4.3 V9.3" stroke-width="1.2"/>
<path d="M158.78 211 V208.2 M158.78 4.3 V7.1" stroke-width="0.6"/>
<path d="M170.1 211 V208.2 M170.1 4.3 V7.1" stroke-width="0.6"/>
<path d="M181.43 211 V208.2 M181.43 4.3 V7.1" stroke-width="0.6"/>
<path d="M192.75 211 V208.2 M192.75 4.3 V7.1" stroke-width="0.6"/>
<path d="M204.07 211 V206 M204.07 4.3 V9.3" stroke-width="1.2"/>
<path d="M215.4 211 V208.2 M215.4 4.3 V7.1" stroke-width="0.6"/>
<path d="M226.73 211 V208.2 M226.73 4.3 V7.1" stroke-width="0.6"/>
<path d="M238.05 211 V208.2 M238.05 4.3 V7.1" stroke-width="0.6"/>
<path d="M249.38 211 V208.2 M249.38 4.3 V7.1" stroke-width="0.6"/>
<path d="M260.7 211 V206 M260.7 4.3 V9.3" stroke-width="1.2"/>
<path d="M34.2 211 H39.2 M260.7 211 H255.7" stroke-width="1.2"/>
<path d="M34.2 204.11 H37 M260.7 204.11 H257.9" stroke-width="0.6"/>
<path d="M34.2 197.22 H37 M260.7 197.22 H257.9" stroke-width="0.6"/>
<path d="M34.2 190.33 H37 M260.7 190.33 H257.9" stroke-width="0.6"/>
<path d="M34.2 183.44 H37 M260.7 183.44 H257.9" stroke-width="0.6"/>
<path d="M34.2 176.55 H39.2 M260.7 176.55 H255.7" stroke-width="1.2"/>
<path d="M34.2 169.66 H37 M260.7 169.66 H257.9" stroke-width="0.6"/>
<path d="M34.2 162.77 H37 M260.7 162.77 H257.9" stroke-width="0.6"/>
<path d="M34.2 155.88 H37 M260.7 155.88 H257.9" stroke-width="0.6"/>
<path d="M34.2 148.99 H37 M260.7 148.99 H257.9" stroke-width="0.6"/>
<path d="M34.2 142.1 H39.2 M260.7 142.1 H255.7" stroke-width="1.2"/>
<path d="M34.2 135.21 H37 M260.7 135.21 H257.9" stroke-width="0.6"/>
<path d="M34.2 128.32 H37 M260.7 128.32 H257.9" stroke-width="0.6"/>
<path d="M34.2 121.43 H37 M260.7 121.43 H257.9" stroke-width="0.6"/>
<path d="M34.2 114.54 H37 M260.7 114.54 H257.9" stroke-width="0.6"/>
<path d="M34.2 107.65 H39.2 M260.7 107.65 H255.7" stroke-width="1.2"/>
<path d="M34.2 100.76 H37 M260.7 100.76 H257.9" stroke-width="0.6"/>
<path d="M34.2 93.87 H37 M260.7 93.87 H257.9" stroke-width="0.6"/>
<path d="M34.2 86.98 H37 M260.7 86.98 H257.9" stroke-width="0.6"/>
<path d="M34.2 80.09 H37 M260.7 80.09 H257.9" stroke-width="0.6"/>
<path d="M34.2 73.2 H39.2 M260.7 73.2 H255.7" stroke-width="1.2"/>
<path d="M34.2 66.31 H37 M260.7 66.31 H257.9" stroke-width="0.6"/>
<path d="M34.2 59.42 H37 M260.7 59.42 H257.9" stroke-width="0.6"/>
<path d="M34.2 52.53 H37 M260.7 52.53 H257.9" stroke-width="0.6"/>
<path d="M34.2 45.64 H37 M260.7 45.64 H257.9" stroke-width="0.6"/>
<path d="M34.2 38.75 H39.2 M260.7 38.75 H255.7" stroke-width="1.2"/>
<path d="M34.2 31.86 H37 M260.7 31.86 H257.9" stroke-width="0.6"/>
<path d="M34.2 24.97 H37 M260.7 24.97 H257.9" stroke-width="0.6"/>
<path d="M34.2 18.08 H37 M260.7 18.08 H257.9" stroke-width="0.6"/>
<path d="M34.2 11.19 H37 M260.7 11.19 H257.9" stroke-width="0.6"/>
<path d="M34.2 4.3 H39.2 M260.7 4.3 H255.7" stroke-width="1.2"/>
</g>
<g font-size="11.8" fill="#000">
<text x="34.2" y="222.8" text-anchor="middle">-1</text>
<text x="90.83" y="222.8" text-anchor="middle">-0.5</text>
<text x="147.45" y="222.8" text-anchor="middle">0</text>
<text x="204.07" y="222.8" text-anchor="middle">0.5</text>
<text x="260.7" y="222.8" text-anchor="middle">1</text>
<text x="30.8" y="215.2" text-anchor="end">0</text>
<text x="30.8" y="180.75" text-anchor="end">0.5</text>
<text x="30.8" y="146.3" text-anchor="end">1</text>
<text x="30.8" y="111.85" text-anchor="end">1.5</text>
<text x="30.8" y="77.4" text-anchor="end">2</text>
<text x="30.8" y="42.95" text-anchor="end">2.5</text>
<text x="30.8" y="8.5" text-anchor="end">3</text>
</g>
<text x="136.7" y="233.8" font-size="14.2" font-style="italic">x/a<tspan font-style="normal" font-size="8" dx="-0.6" dy="3.9">0</tspan></text>
<text transform="translate(10.2,122) rotate(-90)" font-size="14.5" font-style="italic">L/L<tspan font-style="normal" font-size="9" dx="-0.8" dy="3.8">0</tspan></text>
<text x="131.3" y="257.8" font-size="14.6" text-anchor="middle" style="stroke:none">(a)</text>
<text x="55.3" y="26.3" font-size="11.5" font-style="italic">G<tspan font-size="6" dy="2.4" font-style="normal">&#8734;</tspan><tspan dy="-2.4">/G</tspan><tspan font-size="6.7" dx="0.5" dy="2.0" font-style="normal">0</tspan></text>
<path d="M44.3 34.3 H96.7" stroke="#000" stroke-width="2.2"/>
<text x="105.5" y="38.3" font-size="11.7">1</text>
<path d="M44.3 48.6 H96.7" stroke="#0000aa" stroke-width="2.2"/>
<path d="M70.6 44.6 L74.3 48.6 L70.6 52.6 L66.9 48.6 Z" fill="#0000aa"/>
<text x="105.5" y="52.6" font-size="11.7">2</text>
<path d="M44.3 62.9 H96.7" stroke="#d60000" stroke-width="2.2"/>
<path d="M70.6 58.9 L74.3 62.9 L70.6 66.9 L66.9 62.9 Z" fill="#d60000"/>
<text x="105.5" y="66.9" font-size="11.7">5</text>
<path d="M44.3 76.8 H96.7" stroke="#00a200" stroke-width="2.2"/>
<path d="M70.6 72.8 L74.3 76.8 L70.6 80.8 L66.9 76.8 Z" fill="#00a200"/>
<text x="105.5" y="80.8" font-size="11.7">10</text>
<path d="M44.3 90.9 H96.7" stroke="#ff7010" stroke-width="2.2" stroke-dasharray="5.6 5.3"/>
<text x="105.5" y="94.5" font-size="11.7">Hunter 1961</text>
<path d="M169.2 197.1 H201" stroke="#000" stroke-width="1.4"/>
<path d="M215.5 197.1 L199.5 194 L199.5 200.2 Z" fill="#000"/>
<text x="181.3" y="191" font-size="10.5" font-style="italic">u<tspan font-size="7.5" dy="3.7">x</tspan></text>
<circle cx="184.6" cy="183.4" r="0.6" fill="#000"/>
<defs><clipPath id="cb"><rect x="302.2" y="7" width="222" height="203.4"/></clipPath></defs>
<g clip-path="url(#cb)">
<path d="M302.2 201.15 H524.2" stroke="#000" stroke-width="2.3"/>
<path d="M302.2 185.51 L302.86 185.24 L303.51 184.97 L304.17 184.69 L304.82 184.4 L305.48 184.11 L306.13 183.81 L306.79 183.51 L307.45 183.2 L308.1 182.88 L308.76 182.56 L309.41 182.23 L310.07 181.9 L310.72 181.56 L311.38 181.21 L312.04 180.86 L312.69 180.5 L313.35 180.13 L314 179.76 L314.66 179.38 L315.31 179 L315.97 178.6 L316.63 178.21 L317.28 177.8 L317.94 177.39 L318.59 176.98 L319.25 176.55 L319.9 176.12 L320.56 175.69 L321.22 175.25 L321.87 174.8 L322.53 174.35 L323.18 173.89 L323.84 173.42 L324.49 172.95 L325.15 172.47 L325.81 171.99 L326.46 171.5 L327.12 171.01 L327.77 170.5 L328.43 170 L329.08 169.49 L329.74 168.97 L330.39 168.45 L331.05 167.93 L331.71 167.4 L332.36 166.86 L333.02 166.32 L333.67 165.78 L334.33 165.23 L334.98 164.68 L335.64 164.12 L336.3 163.56 L336.95 163 L337.61 162.44 L338.26 161.87 L338.92 161.3 L339.57 160.73 L340.23 160.16 L340.89 159.58 L341.54 159.01 L342.2 158.43 L342.85 157.85 L343.51 157.27 L344.16 156.7 L344.82 156.12 L345.48 155.54 L346.13 154.97 L346.79 154.4 L347.44 153.83 L348.1 153.26 L348.75 152.69 L349.41 152.13 L350.07 151.57 L350.72 151.02 L351.38 150.47 L352.03 149.93 L352.69 149.39 L353.34 148.85 L354 148.33" fill="none" stroke="#000" stroke-width="2.2" stroke-dasharray="11.5 1.3" stroke-dashoffset="-3.5"/>
<path d="M354 148.33 L354.8 147.69 L355.61 147.07 L356.41 146.46 L357.21 145.86 L358.01 145.28 L358.82 144.71 L359.62 144.15 L360.42 143.61 L361.22 143.09 L362.03 142.59 L362.83 142.1 L363.63 141.63 L364.43 141.19 L365.24 140.76 L366.04 140.35 L366.84 139.97 L367.64 139.61 L368.45 139.27 L369.25 138.95 L370.05 138.66 L370.85 138.39 L371.66 138.15 L372.46 137.93 L373.26 137.73 L374.06 137.56 L374.87 137.42 L375.67 137.3 L376.47 137.21 L377.27 137.14 L378.08 137.1 L378.88 137.08 L379.68 137.09 L380.48 137.12 L381.29 137.18 L382.09 137.26 L382.89 137.37 L383.69 137.5 L384.5 137.65 L385.3 137.83 L386.1 138.03 L386.9 138.25 L387.71 138.49 L388.51 138.75 L389.31 139.04 L390.11 139.34 L390.92 139.66 L391.72 140 L392.52 140.36 L393.32 140.74 L394.13 141.13 L394.93 141.54 L395.73 141.97 L396.53 142.4 L397.34 142.86 L398.14 143.32 L398.94 143.8 L399.74 144.29 L400.55 144.79 L401.35 145.3 L402.15 145.82 L402.95 146.35 L403.76 146.88 L404.56 147.43 L405.36 147.98 L406.16 148.54 L406.97 149.1 L407.77 149.67 L408.57 150.24 L409.37 150.82 L410.18 151.4 L410.98 151.99 L411.78 152.57 L412.58 153.16 L413.39 153.75 L414.19 154.34 L414.99 154.93 L415.79 155.52 L416.6 156.11 L417.4 156.7 L418.2 157.29 L419 157.87 L419.81 158.46 L420.61 159.04 L421.41 159.62 L422.21 160.2 L423.02 160.77 L423.82 161.35 L424.62 161.91 L425.42 162.48 L426.23 163.04 L427.03 163.59 L427.83 164.15 L428.63 164.69 L429.44 165.24 L430.24 165.77 L431.04 166.31 L431.84 166.84 L432.65 167.36 L433.45 167.88 L434.25 168.39 L435.05 168.9 L435.86 169.4 L436.66 169.89 L437.46 170.38 L438.26 170.87 L439.07 171.35 L439.87 171.82 L440.67 172.29 L441.47 172.75 L442.28 173.2 L443.08 173.65 L443.88 174.1 L444.68 174.54 L445.49 174.97 L446.29 175.39 L447.09 175.81 L447.89 176.23 L448.7 176.64 L449.5 177.04 L450.3 177.44 L451.1 177.83 L451.91 178.22 L452.71 178.6 L453.51 178.97 L454.31 179.34 L455.12 179.71 L455.92 180.06 L456.72 180.42 L457.52 180.76 L458.33 181.11 L459.13 181.44 L459.93 181.78 L460.73 182.1 L461.54 182.42 L462.34 182.74 L463.14 183.05 L463.94 183.36 L464.75 183.66 L465.55 183.96 L466.35 184.25 L467.15 184.54 L467.96 184.82 L468.76 185.1 L469.56 185.37 L470.36 185.64 L471.17 185.91 L471.97 186.17 L472.77 186.42 L473.57 186.67 L474.38 186.92 L475.18 187.17 L475.98 187.41 L476.78 187.64 L477.59 187.87 L478.39 188.1 L479.19 188.32 L479.99 188.55 L480.8 188.76 L481.6 188.97 L482.4 189.18 L483.2 189.39 L484.01 189.59 L484.81 189.79 L485.61 189.99 L486.41 190.18 L487.22 190.37 L488.02 190.55 L488.82 190.74 L489.62 190.92 L490.43 191.09 L491.23 191.26 L492.03 191.44 L492.83 191.6 L493.64 191.77 L494.44 191.93 L495.24 192.09 L496.04 192.24 L496.85 192.4 L497.65 192.55 L498.45 192.7 L499.25 192.84 L500.06 192.98 L500.86 193.13 L501.66 193.26 L502.46 193.4 L503.27 193.53 L504.07 193.66 L504.87 193.79 L505.67 193.92 L506.48 194.04 L507.28 194.17 L508.08 194.29 L508.88 194.4 L509.69 194.52 L510.49 194.63 L511.29 194.75 L512.09 194.86 L512.9 194.96 L513.7 195.07" fill="none" stroke="#000" stroke-width="2.2" stroke-dasharray="8 2.6" stroke-dashoffset="0"/>
<path d="M302.2 175.97 L303.19 175.29 L304.17 174.59 L305.16 173.87 L306.15 173.12 L307.13 172.36 L308.12 171.58 L309.11 170.78 L310.1 169.95 L311.08 169.1 L312.07 168.23 L313.06 167.34 L314.04 166.42 L315.03 165.48 L316.02 164.52 L317 163.53 L317.99 162.52 L318.98 161.48 L319.96 160.42 L320.95 159.33 L321.94 158.21 L322.93 157.07 L323.91 155.9 L324.9 154.7 L325.89 153.48 L326.87 152.22 L327.86 150.94 L328.85 149.63 L329.83 148.3 L330.82 146.94 L331.81 145.54 L332.79 144.12 L333.78 142.68 L334.77 141.2 L335.76 139.7 L336.74 138.18 L337.73 136.62 L338.72 135.05 L339.7 133.44 L340.69 131.82 L341.68 130.17 L342.66 128.5 L343.65 126.81 L344.64 125.11 L345.63 123.38 L346.61 121.64 L347.6 119.89 L348.59 118.12 L349.57 116.35 L350.56 114.57 L351.55 112.79 L352.53 111.01 L353.52 109.23 L354.51 107.45 L355.49 105.68 L356.48 103.93 L357.47 102.19 L358.46 100.47 L359.44 98.77 L360.43 97.1 L361.42 95.46 L362.4 93.86 L363.39 92.3 L364.38 90.78 L365.36 89.32 L366.35 87.9 L367.34 86.54 L368.32 85.25 L369.31 84.02 L370.3 82.86 L371.29 81.77 L372.27 80.76 L373.26 79.84 L374.25 78.99 L375.23 78.23 L376.22 77.56 L377.21 76.98 L378.19 76.49 L379.18 76.09 L380.17 75.79 L381.15 75.58 L382.14 75.47 L383.13 75.45 L384.12 75.53 L385.1 75.7 L386.09 75.96 L387.08 76.31 L388.06 76.75 L389.05 77.27 L390.04 77.88 L391.02 78.56 L392.01 79.33 L393 80.16 L393.98 81.07 L394.97 82.04 L395.96 83.08 L396.95 84.17 L397.93 85.32 L398.92 86.52 L399.91 87.77 L400.89 89.06 L401.88 90.39 L402.87 91.76 L403.85 93.15 L404.84 94.58 L405.83 96.03 L406.82 97.51 L407.8 99 L408.79 100.51 L409.78 102.03 L410.76 103.56 L411.75 105.1 L412.74 106.64 L413.72 108.18 L414.71 109.73 L415.7 111.27 L416.68 112.81 L417.67 114.35 L418.66 115.87 L419.65 117.39 L420.63 118.9 L421.62 120.39 L422.61 121.88 L423.59 123.35 L424.58 124.8 L425.57 126.24 L426.55 127.67 L427.54 129.07 L428.53 130.46 L429.51 131.83 L430.5 133.18 L431.49 134.52 L432.48 135.83 L433.46 137.13 L434.45 138.4 L435.44 139.66 L436.42 140.89 L437.41 142.1 L438.4 143.3 L439.38 144.47 L440.37 145.63 L441.36 146.76 L442.34 147.87 L443.33 148.97 L444.32 150.04 L445.31 151.1 L446.29 152.13 L447.28 153.15 L448.27 154.14 L449.25 155.12 L450.24 156.08 L451.23 157.02 L452.21 157.94 L453.2 158.84 L454.19 159.73 L455.17 160.6 L456.16 161.45 L457.15 162.28 L458.14 163.1 L459.12 163.9 L460.11 164.69 L461.1 165.45 L462.08 166.21 L463.07 166.95 L464.06 167.67 L465.04 168.38 L466.03 169.07 L467.02 169.75 L468.01 170.41 L468.99 171.06 L469.98 171.7 L470.97 172.33 L471.95 172.94 L472.94 173.54 L473.93 174.12 L474.91 174.7 L475.9 175.26 L476.89 175.81 L477.87 176.34 L478.86 176.87 L479.85 177.39 L480.84 177.89 L481.82 178.39 L482.81 178.87 L483.8 179.34 L484.78 179.81 L485.77 180.26 L486.76 180.7 L487.74 181.14 L488.73 181.56 L489.72 181.98 L490.7 182.39 L491.69 182.79 L492.68 183.18 L493.67 183.56 L494.65 183.93 L495.64 184.3 L496.63 184.66 L497.61 185.01 L498.6 185.35" fill="none" stroke="#000" stroke-width="2.2" stroke-dasharray="5.2 2 1.6 2" stroke-dashoffset="0" stroke-linecap="butt"/>
<path d="M302.2 172.45 L303.13 171.66 L304.06 170.85 L304.99 170.02 L305.92 169.18 L306.85 168.33 L307.78 167.45 L308.71 166.56 L309.65 165.65 L310.58 164.72 L311.51 163.77 L312.44 162.8 L313.37 161.81 L314.3 160.8 L315.23 159.77 L316.16 158.71 L317.09 157.64 L318.02 156.54 L318.95 155.41 L319.88 154.27 L320.81 153.09 L321.74 151.9 L322.67 150.67 L323.61 149.43 L324.54 148.15 L325.47 146.85 L326.4 145.52 L327.33 144.16 L328.26 142.78 L329.19 141.37 L330.12 139.92 L331.05 138.45 L331.98 136.95 L332.91 135.43 L333.84 133.87 L334.77 132.28 L335.7 130.66 L336.63 129.02 L337.56 127.34 L338.5 125.64 L339.43 123.9 L340.36 122.14 L341.29 120.35 L342.22 118.53 L343.15 116.68 L344.08 114.81 L345.01 112.91 L345.94 110.99 L346.87 109.05 L347.8 107.08 L348.73 105.09 L349.66 103.08 L350.59 101.06 L351.52 99.02 L352.46 96.96 L353.39 94.89 L354.32 92.82 L355.25 90.74 L356.18 88.65 L357.11 86.57 L358.04 84.49 L358.97 82.41 L359.9 80.34 L360.83 78.29 L361.76 76.26 L362.69 74.24 L363.62 72.26 L364.55 70.3 L365.48 68.38 L366.42 66.51 L367.35 64.67 L368.28 62.89 L369.21 61.16 L370.14 59.49 L371.07 57.89 L372 56.35 L372.93 54.9 L373.86 53.52 L374.79 52.22 L375.72 51.02 L376.65 49.9 L377.58 48.88 L378.51 47.97 L379.44 47.15 L380.37 46.44 L381.31 45.84 L382.24 45.35 L383.17 44.97 L384.1 44.71 L385.03 44.55 L385.96 44.51 L386.89 44.59 L387.82 44.77 L388.75 45.07 L389.68 45.48 L390.61 45.99 L391.54 46.61 L392.47 47.33 L393.4 48.15 L394.33 49.06 L395.27 50.07 L396.2 51.16 L397.13 52.34 L398.06 53.59 L398.99 54.92 L399.92 56.32 L400.85 57.78 L401.78 59.3 L402.71 60.88 L403.64 62.51 L404.57 64.18 L405.5 65.9 L406.43 67.65 L407.36 69.44 L408.29 71.25 L409.23 73.09 L410.16 74.96 L411.09 76.83 L412.02 78.73 L412.95 80.63 L413.88 82.54 L414.81 84.45 L415.74 86.37 L416.67 88.28 L417.6 90.19 L418.53 92.1 L419.46 93.99 L420.39 95.88 L421.32 97.75 L422.25 99.61 L423.18 101.46 L424.12 103.29 L425.05 105.1 L425.98 106.89 L426.91 108.67 L427.84 110.42 L428.77 112.15 L429.7 113.86 L430.63 115.54 L431.56 117.21 L432.49 118.85 L433.42 120.46 L434.35 122.05 L435.28 123.62 L436.21 125.16 L437.14 126.68 L438.08 128.17 L439.01 129.64 L439.94 131.08 L440.87 132.49 L441.8 133.89 L442.73 135.25 L443.66 136.6 L444.59 137.92 L445.52 139.21 L446.45 140.48 L447.38 141.73 L448.31 142.95 L449.24 144.15 L450.17 145.33 L451.1 146.48 L452.04 147.61 L452.97 148.73 L453.9 149.81 L454.83 150.88 L455.76 151.93 L456.69 152.95 L457.62 153.96 L458.55 154.94 L459.48 155.91 L460.41 156.85 L461.34 157.78 L462.27 158.68 L463.2 159.57 L464.13 160.44 L465.06 161.3 L465.99 162.13 L466.93 162.95 L467.86 163.75 L468.79 164.54 L469.72 165.31 L470.65 166.06 L471.58 166.8 L472.51 167.52 L473.44 168.22 L474.37 168.92 L475.3 169.59 L476.23 170.26 L477.16 170.91 L478.09 171.54 L479.02 172.17 L479.95 172.78 L480.89 173.37 L481.82 173.96 L482.75 174.53 L483.68 175.09 L484.61 175.64 L485.54 176.18 L486.47 176.7 L487.4 177.22" fill="none" stroke="#000" stroke-width="2.2" stroke-dasharray="5.5 5" stroke-dashoffset="4" stroke-linecap="butt"/>
<path d="M302.2 171.7 L303.08 170.85 L303.96 170 L304.84 169.13 L305.71 168.25 L306.59 167.36 L307.47 166.45 L308.35 165.52 L309.23 164.58 L310.11 163.63 L310.98 162.65 L311.86 161.66 L312.74 160.65 L313.62 159.63 L314.5 158.58 L315.38 157.51 L316.25 156.43 L317.13 155.32 L318.01 154.19 L318.89 153.05 L319.77 151.87 L320.65 150.68 L321.52 149.46 L322.4 148.22 L323.28 146.96 L324.16 145.67 L325.04 144.35 L325.92 143.02 L326.79 141.65 L327.67 140.26 L328.55 138.84 L329.43 137.4 L330.31 135.92 L331.19 134.42 L332.07 132.89 L332.94 131.34 L333.82 129.75 L334.7 128.14 L335.58 126.5 L336.46 124.83 L337.34 123.13 L338.21 121.4 L339.09 119.65 L339.97 117.86 L340.85 116.05 L341.73 114.21 L342.61 112.34 L343.48 110.44 L344.36 108.51 L345.24 106.56 L346.12 104.59 L347 102.59 L347.88 100.56 L348.75 98.51 L349.63 96.44 L350.51 94.35 L351.39 92.24 L352.27 90.11 L353.15 87.97 L354.03 85.81 L354.9 83.64 L355.78 81.46 L356.66 79.27 L357.54 77.08 L358.42 74.89 L359.3 72.69 L360.17 70.5 L361.05 68.31 L361.93 66.13 L362.81 63.97 L363.69 61.83 L364.57 59.7 L365.44 57.6 L366.32 55.53 L367.2 53.49 L368.08 51.48 L368.96 49.52 L369.84 47.61 L370.71 45.74 L371.59 43.93 L372.47 42.19 L373.35 40.5 L374.23 38.88 L375.11 37.34 L375.98 35.88 L376.86 34.49 L377.74 33.2 L378.62 31.99 L379.5 30.87 L380.38 29.86 L381.26 28.94 L382.13 28.13 L383.01 27.42 L383.89 26.82 L384.77 26.32 L385.65 25.94 L386.53 25.67 L387.4 25.51 L388.28 25.47 L389.16 25.54 L390.04 25.72 L390.92 26.01 L391.8 26.41 L392.67 26.92 L393.55 27.53 L394.43 28.25 L395.31 29.06 L396.19 29.98 L397.07 30.99 L397.94 32.09 L398.82 33.28 L399.7 34.55 L400.58 35.9 L401.46 37.32 L402.34 38.82 L403.22 40.38 L404.09 42.01 L404.97 43.69 L405.85 45.42 L406.73 47.21 L407.61 49.04 L408.49 50.9 L409.36 52.81 L410.24 54.75 L411.12 56.71 L412 58.7 L412.88 60.72 L413.76 62.74 L414.63 64.79 L415.51 66.84 L416.39 68.9 L417.27 70.97 L418.15 73.04 L419.03 75.1 L419.9 77.17 L420.78 79.23 L421.66 81.28 L422.54 83.32 L423.42 85.35 L424.3 87.37 L425.17 89.37 L426.05 91.36 L426.93 93.33 L427.81 95.28 L428.69 97.21 L429.57 99.12 L430.45 101.01 L431.32 102.88 L432.2 104.72 L433.08 106.54 L433.96 108.34 L434.84 110.11 L435.72 111.86 L436.59 113.58 L437.47 115.28 L438.35 116.95 L439.23 118.59 L440.11 120.21 L440.99 121.8 L441.86 123.37 L442.74 124.91 L443.62 126.42 L444.5 127.91 L445.38 129.38 L446.26 130.81 L447.13 132.22 L448.01 133.61 L448.89 134.97 L449.77 136.31 L450.65 137.62 L451.53 138.91 L452.41 140.17 L453.28 141.41 L454.16 142.63 L455.04 143.82 L455.92 144.99 L456.8 146.14 L457.68 147.27 L458.55 148.37 L459.43 149.46 L460.31 150.52 L461.19 151.56 L462.07 152.58 L462.95 153.58 L463.82 154.56 L464.7 155.52 L465.58 156.46 L466.46 157.38 L467.34 158.29 L468.22 159.17 L469.09 160.04 L469.97 160.89 L470.85 161.72 L471.73 162.54 L472.61 163.34 L473.49 164.12 L474.36 164.89 L475.24 165.64 L476.12 166.38 L477 167.1" fill="none" stroke="#000" stroke-width="2.4" stroke-dasharray="0.01 6.575" stroke-dashoffset="0" stroke-linecap="square"/>
</g>
<path d="M352.8 149.3 L353.46 148.76 L354.11 148.24 L354.77 147.72 L355.43 147.21 L356.08 146.7 L356.74 146.21 L357.4 145.72 L358.06 145.24 L358.71 144.78 L359.37 144.32 L360.03 143.87 L360.68 143.44 L361.34 143.01 L362 142.6 L362.65 142.2 L363.31 141.82 L363.97 141.44 L364.63 141.08 L365.28 140.73 L365.94 140.4 L366.6 140.08 L367.25 139.78 L367.91 139.49 L368.57 139.22 L369.22 138.96 L369.88 138.72 L370.54 138.49 L371.19 138.28 L371.85 138.09 L372.51 137.92 L373.17 137.76 L373.82 137.61 L374.48 137.49 L375.14 137.38 L375.79 137.29 L376.45 137.21 L377.11 137.15 L377.76 137.11 L378.42 137.09 L379.08 137.08 L379.74 137.09 L380.39 137.12 L381.05 137.16 L381.71 137.22 L382.36 137.29 L383.02 137.39 L383.68 137.49 L384.33 137.62 L384.99 137.76 L385.65 137.91 L386.31 138.08 L386.96 138.26 L387.62 138.46 L388.28 138.67 L388.93 138.9 L389.59 139.14 L390.25 139.39 L390.9 139.66 L391.56 139.94 L392.22 140.23 L392.87 140.53 L393.53 140.84 L394.19 141.17 L394.85 141.5 L395.5 141.84 L396.16 142.2 L396.82 142.56 L397.47 142.94 L398.13 143.32 L398.79 143.71 L399.44 144.11 L400.1 144.51 L400.76 144.92 L401.42 145.34 L402.07 145.77 L402.73 146.2 L403.39 146.64 L404.04 147.08 L404.7 147.53" fill="none" stroke="#0000aa" stroke-width="2.2" stroke-dasharray="4 2"/>
<path d="M352.8 145.5 L356.3 149.3 L352.8 153.1 L349.3 149.3 Z" fill="#0000aa"/>
<path d="M375.3 133.55 L378.8 137.35 L375.3 141.15 L371.8 137.35 Z" fill="#0000aa"/>
<path d="M388.2 134.85 L391.7 138.65 L388.2 142.45 L384.7 138.65 Z" fill="#0000aa"/>
<path d="M397.3 139.04 L400.8 142.84 L397.3 146.64 L393.8 142.84 Z" fill="#0000aa"/>
<path d="M404.7 143.73 L408.2 147.53 L404.7 151.33 L401.2 147.53 Z" fill="#0000aa"/>
<path d="M345 124.48 L345.66 123.32 L346.32 122.15 L346.99 120.98 L347.65 119.8 L348.31 118.62 L348.97 117.43 L349.63 116.24 L350.3 115.05 L350.96 113.85 L351.62 112.66 L352.28 111.46 L352.94 110.26 L353.61 109.07 L354.27 107.88 L354.93 106.69 L355.59 105.51 L356.25 104.33 L356.92 103.16 L357.58 101.99 L358.24 100.84 L358.9 99.69 L359.56 98.56 L360.23 97.44 L360.89 96.33 L361.55 95.24 L362.21 94.17 L362.87 93.11 L363.54 92.07 L364.2 91.05 L364.86 90.06 L365.52 89.08 L366.18 88.14 L366.85 87.21 L367.51 86.32 L368.17 85.45 L368.83 84.61 L369.49 83.8 L370.16 83.02 L370.82 82.28 L371.48 81.57 L372.14 80.89 L372.81 80.25 L373.47 79.65 L374.13 79.08 L374.79 78.56 L375.45 78.07 L376.12 77.62 L376.78 77.22 L377.44 76.85 L378.1 76.53 L378.76 76.25 L379.43 76.01 L380.09 75.81 L380.75 75.65 L381.41 75.54 L382.07 75.47 L382.74 75.45 L383.4 75.46 L384.06 75.52 L384.72 75.62 L385.38 75.76 L386.05 75.94 L386.71 76.17 L387.37 76.43 L388.03 76.73 L388.69 77.07 L389.36 77.45 L390.02 77.86 L390.68 78.32 L391.34 78.8 L392 79.32 L392.67 79.87 L393.33 80.46 L393.99 81.07 L394.65 81.72 L395.31 82.39 L395.98 83.1 L396.64 83.82 L397.3 84.58" fill="none" stroke="#d60000" stroke-width="2.2" stroke-dasharray="4 2"/>
<path d="M345 120.68 L348.5 124.48 L345 128.28 L341.5 124.48 Z" fill="#d60000"/>
<path d="M367.3 82.8 L370.8 86.6 L367.3 90.4 L363.8 86.6 Z" fill="#d60000"/>
<path d="M380.3 71.95 L383.8 75.75 L380.3 79.55 L376.8 75.75 Z" fill="#d60000"/>
<path d="M390.3 74.25 L393.8 78.05 L390.3 81.85 L386.8 78.05 Z" fill="#d60000"/>
<path d="M397.3 80.78 L400.8 84.58 L397.3 88.38 L393.8 84.58 Z" fill="#d60000"/>
<path d="M339.8 123.2 L340.5 121.87 L341.19 120.53 L341.89 119.17 L342.59 117.8 L343.29 116.41 L343.98 115 L344.68 113.59 L345.38 112.15 L346.08 110.71 L346.77 109.25 L347.47 107.78 L348.17 106.3 L348.87 104.8 L349.56 103.3 L350.26 101.78 L350.96 100.26 L351.66 98.72 L352.35 97.18 L353.05 95.64 L353.75 94.08 L354.45 92.53 L355.14 90.97 L355.84 89.41 L356.54 87.84 L357.24 86.28 L357.93 84.72 L358.63 83.16 L359.33 81.61 L360.03 80.06 L360.72 78.53 L361.42 77 L362.12 75.48 L362.82 73.98 L363.51 72.49 L364.21 71.02 L364.91 69.57 L365.61 68.14 L366.3 66.73 L367 65.34 L367.7 63.99 L368.4 62.66 L369.09 61.37 L369.79 60.1 L370.49 58.88 L371.19 57.69 L371.88 56.54 L372.58 55.43 L373.28 54.37 L373.98 53.35 L374.67 52.38 L375.37 51.46 L376.07 50.59 L376.77 49.77 L377.46 49.01 L378.16 48.3 L378.86 47.65 L379.56 47.06 L380.25 46.53 L380.95 46.06 L381.65 45.65 L382.35 45.3 L383.04 45.02 L383.74 44.8 L384.44 44.64 L385.14 44.54 L385.83 44.51 L386.53 44.55 L387.23 44.64 L387.93 44.8 L388.62 45.02 L389.32 45.31 L390.02 45.65 L390.72 46.06 L391.41 46.52 L392.11 47.04 L392.81 47.61 L393.51 48.24 L394.2 48.93 L394.9 49.66" fill="none" stroke="#00a200" stroke-width="2.2" stroke-dasharray="4 2"/>
<path d="M339.8 119.4 L343.3 123.2 L339.8 127 L336.3 123.2 Z" fill="#00a200"/>
<path d="M365.3 64.96 L368.8 68.76 L365.3 72.56 L361.8 68.76 Z" fill="#00a200"/>
<path d="M377.7 44.96 L381.2 48.76 L377.7 52.56 L374.2 48.76 Z" fill="#00a200"/>
<path d="M387.2 40.84 L390.7 44.64 L387.2 48.44 L383.7 44.64 Z" fill="#00a200"/>
<path d="M394.9 45.86 L398.4 49.66 L394.9 53.46 L391.4 49.66 Z" fill="#00a200"/>
<g stroke="#333" fill="none">
<rect x="302.2" y="7" width="222" height="203.4" stroke-width="1.5"/>
<path d="M302.2 210.4 V205.4 M302.2 7 V12" stroke-width="1.2"/>
<path d="M324.48 210.4 V207.4 M324.48 7 V10" stroke-width="0.6"/>
<path d="M337.51 210.4 V207.4 M337.51 7 V10" stroke-width="0.6"/>
<path d="M346.75 210.4 V207.4 M346.75 7 V10" stroke-width="0.6"/>
<path d="M353.92 210.4 V207.4 M353.92 7 V10" stroke-width="0.6"/>
<path d="M359.78 210.4 V207.4 M359.78 7 V10" stroke-width="0.6"/>
<path d="M364.74 210.4 V207.4 M364.74 7 V10" stroke-width="0.6"/>
<path d="M369.03 210.4 V207.4 M369.03 7 V10" stroke-width="0.6"/>
<path d="M372.81 210.4 V207.4 M372.81 7 V10" stroke-width="0.6"/>
<path d="M376.2 210.4 V205.4 M376.2 7 V12" stroke-width="1.2"/>
<path d="M398.48 210.4 V207.4 M398.48 7 V10" stroke-width="0.6"/>
<path d="M411.51 210.4 V207.4 M411.51 7 V10" stroke-width="0.6"/>
<path d="M420.75 210.4 V207.4 M420.75 7 V10" stroke-width="0.6"/>
<path d="M427.92 210.4 V207.4 M427.92 7 V10" stroke-width="0.6"/>
<path d="M433.78 210.4 V207.4 M433.78 7 V10" stroke-width="0.6"/>
<path d="M438.74 210.4 V207.4 M438.74 7 V10" stroke-width="0.6"/>
<path d="M443.03 210.4 V207.4 M443.03 7 V10" stroke-width="0.6"/>
<path d="M446.81 210.4 V207.4 M446.81 7 V10" stroke-width="0.6"/>
<path d="M450.2 210.4 V205.4 M450.2 7 V12" stroke-width="1.2"/>
<path d="M472.48 210.4 V207.4 M472.48 7 V10" stroke-width="0.6"/>
<path d="M485.51 210.4 V207.4 M485.51 7 V10" stroke-width="0.6"/>
<path d="M494.75 210.4 V207.4 M494.75 7 V10" stroke-width="0.6"/>
<path d="M501.92 210.4 V207.4 M501.92 7 V10" stroke-width="0.6"/>
<path d="M507.78 210.4 V207.4 M507.78 7 V10" stroke-width="0.6"/>
<path d="M512.74 210.4 V207.4 M512.74 7 V10" stroke-width="0.6"/>
<path d="M517.03 210.4 V207.4 M517.03 7 V10" stroke-width="0.6"/>
<path d="M520.81 210.4 V207.4 M520.81 7 V10" stroke-width="0.6"/>
<path d="M302.2 201 H307.2 M524.2 201 H519.2" stroke-width="1.2"/>
<path d="M302.2 184.83 H305.2 M524.2 184.83 H521.2" stroke-width="0.6"/>
<path d="M302.2 168.67 H305.2 M524.2 168.67 H521.2" stroke-width="0.6"/>
<path d="M302.2 152.5 H305.2 M524.2 152.5 H521.2" stroke-width="0.6"/>
<path d="M302.2 136.33 H307.2 M524.2 136.33 H519.2" stroke-width="1.2"/>
<path d="M302.2 120.17 H305.2 M524.2 120.17 H521.2" stroke-width="0.6"/>
<path d="M302.2 104 H305.2 M524.2 104 H521.2" stroke-width="0.6"/>
<path d="M302.2 87.83 H305.2 M524.2 87.83 H521.2" stroke-width="0.6"/>
<path d="M302.2 71.67 H307.2 M524.2 71.67 H519.2" stroke-width="1.2"/>
<path d="M302.2 55.5 H305.2 M524.2 55.5 H521.2" stroke-width="0.6"/>
<path d="M302.2 39.33 H305.2 M524.2 39.33 H521.2" stroke-width="0.6"/>
<path d="M302.2 23.17 H305.2 M524.2 23.17 H521.2" stroke-width="0.6"/>
<path d="M302.2 7 H307.2 M524.2 7 H519.2" stroke-width="1.2"/>
</g>
<g font-size="11.8" fill="#000">
<text x="299" y="205" text-anchor="end">0</text>
<text x="299" y="140.33" text-anchor="end">0.2</text>
<text x="299" y="75.67" text-anchor="end">0.4</text>
<text x="299" y="11" text-anchor="end">0.6</text>
<text x="302.8" y="223.8" text-anchor="middle">10<tspan font-size="7" dx="0.3" dy="-5.2">-1</tspan></text>
<text x="376.8" y="223.8" text-anchor="middle">10<tspan font-size="7" dx="0.3" dy="-5.2">0</tspan></text>
<text x="450.8" y="223.8" text-anchor="middle">10<tspan font-size="7" dx="0.3" dy="-5.2">1</tspan></text>
<text x="524.8" y="223.8" text-anchor="middle">10<tspan font-size="7" dx="0.3" dy="-5.2">2</tspan></text>
</g>
<text x="388.6" y="230.6" font-size="14">(<tspan font-style="italic">u</tspan><tspan font-size="8.5" dy="4.2" font-style="italic">x</tspan><tspan dy="-4.2">&#920;</tspan><tspan font-size="8.5" dy="4.2" font-style="italic">z</tspan><tspan dy="-4.2">)/</tspan><tspan font-style="italic">a</tspan><tspan font-size="8.5" dx="0.5" dy="4.2">0</tspan></text>
<circle cx="397.3" cy="221.8" r="0.75" fill="#000"/>
<text transform="translate(280.7,125.6) rotate(-90)" font-size="14.2">&#956;<tspan font-style="italic">R/a</tspan><tspan font-size="8.5" dx="0.4" dy="3.4">0</tspan></text>
<text x="402.2" y="256.1" font-size="14.6" text-anchor="middle" style="stroke:none">(b)</text>
<text x="464.5" y="29.6" font-size="11.5" font-style="italic">G<tspan font-size="6" dy="2.4" font-style="normal">&#8734;</tspan><tspan dy="-2.4">/G</tspan><tspan font-size="6.7" dx="0.5" dy="2.0" font-style="normal">0</tspan></text>
<path d="M444.9 38.7 H496.1" stroke="#000" stroke-width="2.2"/>
<text x="505.3" y="42.7" font-size="11.7">1</text>
<path d="M444.9 52.1 H496.1" stroke="#000" stroke-width="2.2" stroke-dasharray="8 2.6" stroke-linecap="butt"/>
<text x="505.3" y="56.1" font-size="11.7">2</text>
<path d="M444.9 66 H496.1" stroke="#000" stroke-width="2.2" stroke-dasharray="5.2 2 1.6 2" stroke-linecap="butt"/>
<text x="505.3" y="70" font-size="11.7">5</text>
<path d="M444.9 80.3 H496.1" stroke="#000" stroke-width="2.2" stroke-dasharray="5.5 5" stroke-linecap="butt"/>
<text x="505.3" y="84.3" font-size="11.7">10</text>
<path d="M444.9 93.8 H496.1" stroke="#000" stroke-width="2.4" stroke-dasharray="0.01 6.575" stroke-linecap="square"/>
<text x="505.3" y="97.8" font-size="11.7">20</text>
<path d="M351.7 173 L352.15 159.6" stroke="#000" stroke-width="1.1"/>
<path d="M352.4 152.1 L354.45 159.67 L349.85 159.52 Z" fill="#000"/>
<text x="351.2" y="180.4" font-size="11" style="fill:#d60000;stroke:#d60000;stroke-width:0.1px" text-anchor="middle">#1</text>
<path d="M378.2 163.2 L376.8 148.17" stroke="#000" stroke-width="1.1"/>
<path d="M376.1 140.7 L379.09 147.95 L374.51 148.38 Z" fill="#000"/>
<text x="378.5" y="170" font-size="11" style="fill:#0000aa;stroke:#0000aa;stroke-width:0.1px" text-anchor="middle">#2</text>
<path d="M406.7 175.5 L405.31 158.28" stroke="#000" stroke-width="1.1"/>
<path d="M404.7 150.8 L407.6 158.09 L403.01 158.46 Z" fill="#000"/>
<text x="406.8" y="181.8" font-size="11" style="fill:#00a200;stroke:#00a200;stroke-width:0.1px" text-anchor="middle">#3</text>
</svg></body></html>
